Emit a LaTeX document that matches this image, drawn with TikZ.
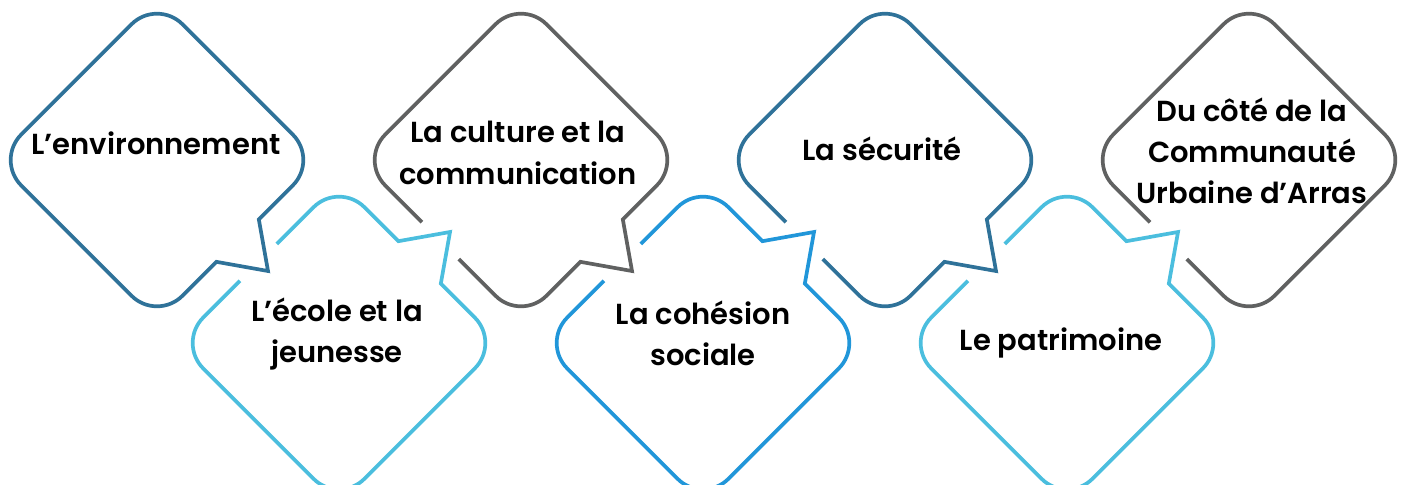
\documentclass[tikz,border=0pt]{standalone}
\usepackage{fontspec}
\setmainfont{Poppins}[BoldFont={Poppins SemiBold}]
\usepackage{tikz}
\definecolor{deepblue}{RGB}{47,114,153}
\definecolor{skyblue}{RGB}{75,190,222}
\definecolor{midblue}{RGB}{33,150,217}
\definecolor{slate}{RGB}{96,97,97}
\begin{document}
\begin{tikzpicture}[x=0.02cm, y=0.02cm]
			\tikzstyle{bubble}=[line width=2.1pt, line join=miter]
			\tikzstyle{topic}=[font=\fontsize{16.5}{23.5}\selectfont\bfseries, align=center, inner sep=0pt]
			\useasboundingbox (0,0) rectangle (1403,-484);
			% upper row
			\begin{scope}[shift={(157,-160)}, rotate=45]
			\draw [bubble, deepblue] (-30,-114) -- (0,-157) -- (30,-114) -- (78,-114) arc[start angle=270, end angle=360, radius=36] -- (114,78) arc[start angle=0, end angle=90, radius=36] -- (-78,114) arc[start angle=90, end angle=180, radius=36] -- (-114,-78) arc[start angle=180, end angle=270, radius=36] -- cycle;
			\end{scope}
			\begin{scope}[shift={(521,-160)}, rotate=45]
			\draw [bubble, slate] (-114,-26) -- (-114,-78) arc[start angle=180, end angle=270, radius=36] -- (-30,-114) -- (0,-157) -- (30,-114) -- (78,-114) arc[start angle=270, end angle=360, radius=36] -- (114,78) arc[start angle=0, end angle=90, radius=36] -- (-78,114) arc[start angle=90, end angle=180, radius=36] -- (-114,26);
			\end{scope}
			\begin{scope}[shift={(885,-160)}, rotate=45]
			\draw [bubble, deepblue] (-114,-26) -- (-114,-78) arc[start angle=180, end angle=270, radius=36] -- (-30,-114) -- (0,-157) -- (30,-114) -- (78,-114) arc[start angle=270, end angle=360, radius=36] -- (114,78) arc[start angle=0, end angle=90, radius=36] -- (-78,114) arc[start angle=90, end angle=180, radius=36] -- (-114,26);
			\end{scope}
			\begin{scope}[shift={(1249,-160)}, rotate=45]
			\draw [bubble, slate] (-114,-26) -- (-114,-78) arc[start angle=180, end angle=270, radius=36] -- (78,-114) arc[start angle=270, end angle=360, radius=36] -- (114,78) arc[start angle=0, end angle=90, radius=36] -- (-78,114) arc[start angle=90, end angle=180, radius=36] -- (-114,26);
			\end{scope}
			% lower row
			\begin{scope}[shift={(339,-343)}, rotate=45]
			\draw [bubble, skyblue] (-26,114) -- (-78,114) arc[start angle=90, end angle=180, radius=36] -- (-114,-78) arc[start angle=180, end angle=270, radius=36] -- (78,-114) arc[start angle=270, end angle=360, radius=36] -- (114,-30) -- (157,0) -- (114,30) -- (114,78) arc[start angle=0, end angle=90, radius=36] -- (26,114);
			\end{scope}
			\begin{scope}[shift={(703,-343)}, rotate=45]
			\draw [bubble, midblue] (-26,114) -- (-78,114) arc[start angle=90, end angle=180, radius=36] -- (-114,-78) arc[start angle=180, end angle=270, radius=36] -- (78,-114) arc[start angle=270, end angle=360, radius=36] -- (114,-30) -- (157,0) -- (114,30) -- (114,78) arc[start angle=0, end angle=90, radius=36] -- (26,114);
			\end{scope}
			\begin{scope}[shift={(1067,-343)}, rotate=45]
			\draw [bubble, skyblue] (-26,114) -- (-78,114) arc[start angle=90, end angle=180, radius=36] -- (-114,-78) arc[start angle=180, end angle=270, radius=36] -- (78,-114) arc[start angle=270, end angle=360, radius=36] -- (114,-30) -- (157,0) -- (114,30) -- (114,78) arc[start angle=0, end angle=90, radius=36] -- (26,114);
			\end{scope}
			% labels
			\node [topic] (env) at (156,-143) {L’environnement};
			\node [topic] (ecole) at (337,-334) {L’école et la\\jeunesse};
			\node [topic] (culture) at (518,-153) {La culture et la\\communication};
			\node [topic] (cohesion) at (703,-333) {La cohésion\\sociale};
			\node [topic] (securite) at (882,-149) {La sécurité};
			\node [topic] (patrimoine) at (1061,-343) {Le patrimoine};
			\node [topic] (cua) at (1252,-151) {Du côté de la\\Communauté\\Urbaine d’Arras};
\end{tikzpicture}
\end{document}
